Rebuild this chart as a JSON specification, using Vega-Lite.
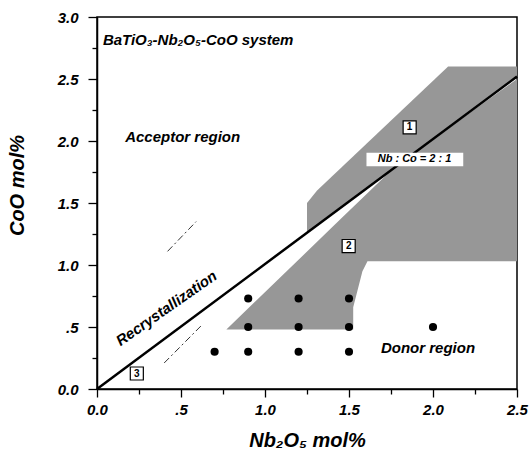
{
  "$schema": "https://vega.github.io/schema/vega-lite/v6.json",
  "width": 420,
  "height": 372,
  "autosize": "none",
  "padding": {"left": 97, "top": 17, "right": 12, "bottom": 64},
  "background": "white",
  "config": {
    "view": {"stroke": "black", "strokeWidth": 1.5},
    "font": "Liberation Sans",
    "text": {"font": "Liberation Sans", "fontWeight": "bold", "fontStyle": "italic", "color": "black"}
  },
  "datasets": {
    "mainline": [{"x": 0, "y": 0}, {"x": 2.5, "y": 2.52}],
    "hatch": [
      {"poly": "A", "i": 0, "x": 1.25, "y": 1.26},
      {"poly": "A", "i": 1, "x": 1.25, "y": 1.5},
      {"poly": "A", "i": 2, "x": 1.31, "y": 1.6},
      {"poly": "A", "i": 3, "x": 2.09, "y": 2.6},
      {"poly": "A", "i": 4, "x": 2.5, "y": 2.6},
      {"poly": "A", "i": 5, "x": 2.5, "y": 2.52},
      {"poly": "B", "i": 0, "x": 2.5, "y": 2.5},
      {"poly": "B", "i": 1, "x": 1.78, "y": 1.8},
      {"poly": "B", "i": 2, "x": 1.45, "y": 1.37},
      {"poly": "B", "i": 3, "x": 0.77, "y": 0.48},
      {"poly": "B", "i": 4, "x": 1.525, "y": 0.48},
      {"poly": "B", "i": 5, "x": 1.525, "y": 0.66},
      {"poly": "B", "i": 6, "x": 1.58, "y": 0.95},
      {"poly": "B", "i": 7, "x": 1.61, "y": 1.03},
      {"poly": "B", "i": 8, "x": 2.5, "y": 1.03}
    ],
    "dashes": [
      {"seg": "a", "i": 0, "x": 0.42, "y": 1.11},
      {"seg": "a", "i": 1, "x": 0.59, "y": 1.35},
      {"seg": "b", "i": 0, "x": 0.4, "y": 0.21},
      {"seg": "b", "i": 1, "x": 0.62, "y": 0.51}
    ],
    "points": [
      {"x": 0.7, "y": 0.3}, {"x": 0.9, "y": 0.3}, {"x": 1.2, "y": 0.3}, {"x": 1.5, "y": 0.3},
      {"x": 0.9, "y": 0.5}, {"x": 1.2, "y": 0.5}, {"x": 1.5, "y": 0.5}, {"x": 2.0, "y": 0.5},
      {"x": 0.9, "y": 0.73}, {"x": 1.2, "y": 0.73}, {"x": 1.5, "y": 0.73}
    ],
    "boxes": [
      {"x": 1.861, "y": 2.11, "label": "1"},
      {"x": 1.498, "y": 1.153, "label": "2"},
      {"x": 0.237, "y": 0.125, "label": "3"}
    ],
    "ratiobox": [{"x": 1.604, "x2": 2.18, "y": 1.905, "y2": 1.797}],
    "ratiolabel": [{"x": 1.89, "y": 1.851, "label": "Nb : Co = 2 : 1"}],
    "regions": [
      {"x": 0.51, "y": 2.03, "label": "Acceptor region"},
      {"x": 1.97, "y": 0.334, "label": "Donor region"}
    ],
    "recryst": [{"x": 0.413, "y": 0.651, "label": "Recrystallization"}],
    "system": [{"x": 0.035, "y": 2.777, "label": "BaTiO₃-Nb₂O₅-CoO  system"}]
  },
  "encoding": {
    "x": {
      "field": "x", "type": "quantitative",
      "scale": {"domain": [0, 2.5], "nice": false, "zero": false},
      "axis": {
        "title": "Nb₂O₅ mol%",
        "values": [0, 0.25, 0.5, 0.75, 1, 1.25, 1.5, 1.75, 2, 2.25, 2.5],
        "labelExpr": "datum.value == 0.5 ? '.5' : (round(datum.value*2) == datum.value*2 ? format(datum.value, '.1f') : '')",
        "tickSize": {"condition": {"test": "round(datum.value*2) == datum.value*2", "value": 8}, "value": 5},
        "grid": false, "labelOverlap": false, "labelFlush": false, "labelBound": false,
        "domainColor": "black", "domainWidth": 1.5, "tickColor": "black", "tickWidth": 1.3,
        "labelFont": "Liberation Sans", "labelFontSize": 15, "labelFontWeight": "bold", "labelFontStyle": "italic", "labelColor": "black", "labelPadding": 5,
        "titleFont": "Liberation Sans", "titleFontSize": 20, "titleFontWeight": "bold", "titleFontStyle": "italic", "titleColor": "black", "titlePadding": 13
      }
    },
    "y": {
      "field": "y", "type": "quantitative",
      "scale": {"domain": [0, 3], "nice": false, "zero": false},
      "axis": {
        "title": "CoO mol%",
        "values": [0, 0.25, 0.5, 0.75, 1, 1.25, 1.5, 1.75, 2, 2.25, 2.5, 2.75, 3],
        "labelExpr": "datum.value == 0.5 ? '.5' : (round(datum.value*2) == datum.value*2 ? format(datum.value, '.1f') : '')",
        "tickSize": {"condition": {"test": "round(datum.value*2) == datum.value*2", "value": 9}, "value": 5},
        "grid": false, "labelOverlap": false, "labelFlush": false, "labelBound": false,
        "domainColor": "black", "domainWidth": 1.5, "tickColor": "black", "tickWidth": 1.3,
        "labelFont": "Liberation Sans", "labelFontSize": 15, "labelFontWeight": "bold", "labelFontStyle": "italic", "labelColor": "black", "labelPadding": 10,
        "titleFont": "Liberation Sans", "titleFontSize": 20, "titleFontWeight": "bold", "titleFontStyle": "italic", "titleColor": "black",
        "titleX": -80, "titleY": 168, "titleAlign": "center", "titleBaseline": "middle", "titleAngle": 270
      }
    }
  },
  "layer": [
    {
      "data": {"name": "hatch"},
      "mark": {"type": "line", "fill": "#979797", "stroke": null, "strokeWidth": 0},
      "encoding": {"detail": {"field": "poly"}, "order": {"field": "i", "type": "quantitative"}}
    },
    {
      "data": {"name": "dashes"},
      "mark": {"type": "line", "color": "#333333", "strokeWidth": 1, "strokeDash": [7, 3, 2, 3]},
      "encoding": {"detail": {"field": "seg"}, "order": {"field": "i", "type": "quantitative"}}
    },
    {
      "data": {"name": "mainline"},
      "mark": {"type": "line", "color": "black", "strokeWidth": 2.5},
      "encoding": {}
    },
    {
      "data": {"name": "ratiobox"},
      "mark": {"type": "rect", "fill": "white", "stroke": null},
      "encoding": {"x2": {"field": "x2"}, "y2": {"field": "y2"}}
    },
    {
      "data": {"name": "ratiolabel"},
      "mark": {"type": "text", "fontSize": 11, "align": "center", "baseline": "middle"},
      "encoding": {"text": {"field": "label"}}
    },
    {
      "data": {"name": "points"},
      "mark": {"type": "circle", "color": "black", "opacity": 1, "size": 66},
      "encoding": {}
    },
    {
      "data": {"name": "boxes"},
      "mark": {"type": "square", "fill": "white", "stroke": "black", "strokeWidth": 1.2, "opacity": 1, "fillOpacity": 1, "size": 170},
      "encoding": {}
    },
    {
      "data": {"name": "boxes"},
      "mark": {"type": "text", "fontSize": 10, "fontStyle": "normal", "align": "center", "baseline": "middle"},
      "encoding": {"text": {"field": "label"}}
    },
    {
      "data": {"name": "regions"},
      "mark": {"type": "text", "fontSize": 15, "align": "center", "baseline": "middle"},
      "encoding": {"text": {"field": "label"}}
    },
    {
      "data": {"name": "recryst"},
      "mark": {"type": "text", "fontSize": 15, "angle": 325, "align": "center", "baseline": "middle"},
      "encoding": {"text": {"field": "label"}}
    },
    {
      "data": {"name": "system"},
      "mark": {"type": "text", "fontSize": 15, "align": "left", "baseline": "alphabetic"},
      "encoding": {"text": {"field": "label"}}
    }
  ]
}
